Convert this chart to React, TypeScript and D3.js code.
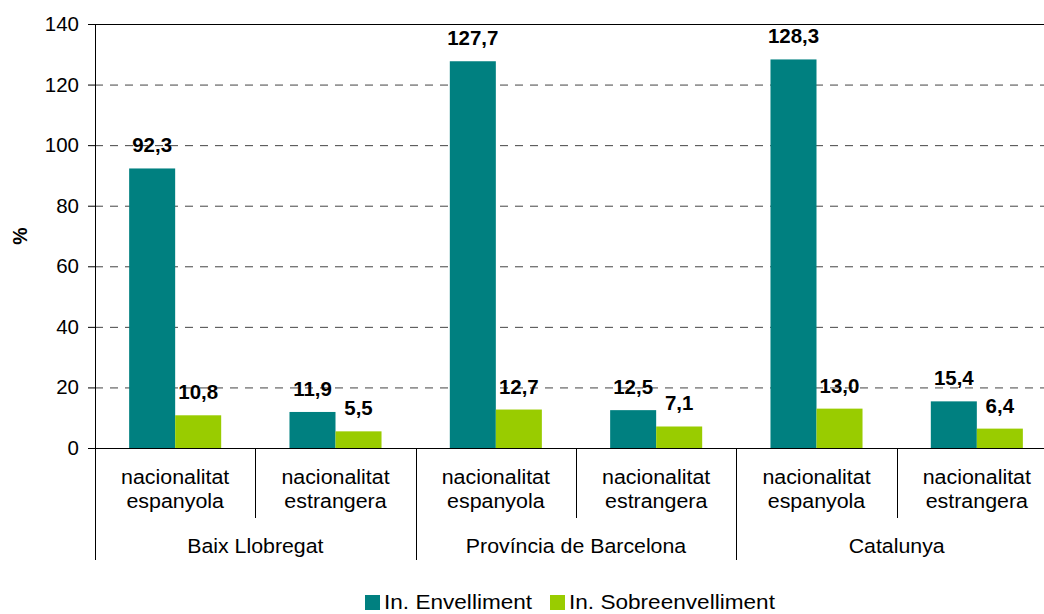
import { useEffect, useRef } from 'react';
import * as d3 from 'd3';

const regions = ['Baix Llobregat', 'Província de Barcelona', 'Catalunya'];
const nationalities = ['nacionalitat espanyola', 'nacionalitat estrangera'];
const seriesNames = ['In. Envelliment', 'In. Sobreenvelliment'];
const seriesColors = ['#008080', '#99CC00'];
const envelliment = [92.3, 11.9, 127.7, 12.5, 128.3, 15.4];
const sobreenvelliment = [10.8, 5.5, 12.7, 7.1, 13.0, 6.4];
const yTicks = [0, 20, 40, 60, 80, 100, 120, 140];

type G = d3.Selection<SVGGElement, unknown, null, undefined>;

// text with a slight horizontal stretch, like the source image
function label(parent: G, x: number, y: number, text: string, size: number, sx: number, anchor = 'middle', bold = false) {
  parent
    .append('text')
    .attr('transform', `translate(${x},${y}) scale(${sx},1)`)
    .attr('text-anchor', anchor)
    .attr('font-size', size)
    .attr('font-weight', bold ? 'bold' : null)
    .attr('fill', '#000')
    .text(text);
}

export default function App() {
  const svgRef = useRef<SVGSVGElement | null>(null);

  useEffect(() => {
    const svgEl = svgRef.current;
    if (!svgEl) return;
    const svg = d3.select(svgEl);
    svg.selectAll('*').remove();

    const left = 95;
    const right = 1057;
    const top = 24;
    const bottom = 448;

    const cats = regions.flatMap((r) => nationalities.map((n) => `${r}|${n}`));
    const x = d3.scaleBand().domain(cats).range([left, right]);
    const y = d3.scaleLinear().domain([0, 140]).range([bottom, top]);
    const inner = d3.scaleBand().domain(['0', '1']).range([0, x.bandwidth()]).paddingInner(0).paddingOuter(0.742);

    const g = svg.append('g').attr('font-family', "'Liberation Sans', Arial, sans-serif") as unknown as G;

    // gridlines
    g.selectAll('line.grid')
      .data(yTicks.filter((t) => t > 0))
      .join('line')
      .attr('x1', left)
      .attr('x2', right)
      .attr('y1', (d) => y(d) + 0.5)
      .attr('y2', (d) => y(d) + 0.5)
      .attr('stroke', (d) => (d === 140 ? '#000' : '#444'))
      .attr('stroke-width', 1)
      .attr('stroke-dasharray', (d) => (d === 140 ? null : '8 7'));

    // y axis ticks + labels
    g.selectAll('line.tick')
      .data(yTicks)
      .join('line')
      .attr('x1', left - 7)
      .attr('x2', left)
      .attr('y1', (d) => y(d) + 0.5)
      .attr('y2', (d) => y(d) + 0.5)
      .attr('stroke', '#000');
    yTicks.forEach((t) => label(g, 79, y(t) + 7, String(t), 19.5, 1.05, 'end'));

    g.append('text')
      .attr('transform', `translate(27, ${(top + bottom) / 2}) rotate(-90)`)
      .attr('text-anchor', 'middle')
      .attr('font-size', 19.5)
      .attr('font-weight', 'bold')
      .text('%');

    // bars
    const seriesData = [envelliment, sobreenvelliment];
    seriesData.forEach((vals, si) => {
      g.selectAll(`rect.s${si}`)
        .data(vals)
        .join('rect')
        .attr('class', `s${si}`)
        .attr('x', (_, i) => (x(cats[i]) ?? 0) + (inner(String(si)) ?? 0))
        .attr('y', (d) => y(d))
        .attr('width', inner.bandwidth())
        .attr('height', (d) => bottom - y(d))
        .attr('fill', seriesColors[si]);
      vals.forEach((d, i) => {
        const cx = (x(cats[i]) ?? 0) + (inner(String(si)) ?? 0) + inner.bandwidth() / 2;
        label(g, cx, y(d) - 16, d.toFixed(1).replace('.', ','), 19.5, 1.05, 'middle', true);
      });
    });

    // axis lines
    g.append('line')
      .attr('x1', left + 0.5)
      .attr('x2', left + 0.5)
      .attr('y1', top)
      .attr('y2', 560)
      .attr('stroke', '#000');
    g.append('line')
      .attr('x1', left)
      .attr('x2', right)
      .attr('y1', bottom + 0.5)
      .attr('y2', bottom + 0.5)
      .attr('stroke', '#000');

    // category separators
    cats.forEach((c, i) => {
      if (i === 0) return;
      const xx = Math.round(x(c) ?? 0) + 0.5;
      g.append('line')
        .attr('x1', xx)
        .attr('x2', xx)
        .attr('y1', bottom)
        .attr('y2', i % 2 === 0 ? 560 : 518)
        .attr('stroke', '#000');
    });

    // category labels
    cats.forEach((c) => {
      const cx = (x(c) ?? 0) + x.bandwidth() / 2;
      const words = c.split('|')[1].split(' ');
      words.forEach((w, wi) => label(g, cx, 484 + wi * 24, w, 20, 1.07));
    });

    // region labels
    regions.forEach((r, ri) => {
      const x0 = x(cats[ri * 2]) ?? 0;
      label(g, x0 + x.bandwidth(), 553, r, 20.5, 1.04);
    });

    // legend
    const offsets = [365, 550];
    seriesNames.forEach((name, i) => {
      g.append('rect')
        .attr('x', offsets[i])
        .attr('y', 595)
        .attr('width', 15)
        .attr('height', 15)
        .attr('fill', seriesColors[i]);
      label(g, offsets[i] + 19, 609, name, 20, 1.13, 'start');
    });
  }, []);

  return <svg ref={svgRef} width={1044} height={614} style={{ display: 'block', position: 'absolute', left: 0, top: 0 }} />;
}
